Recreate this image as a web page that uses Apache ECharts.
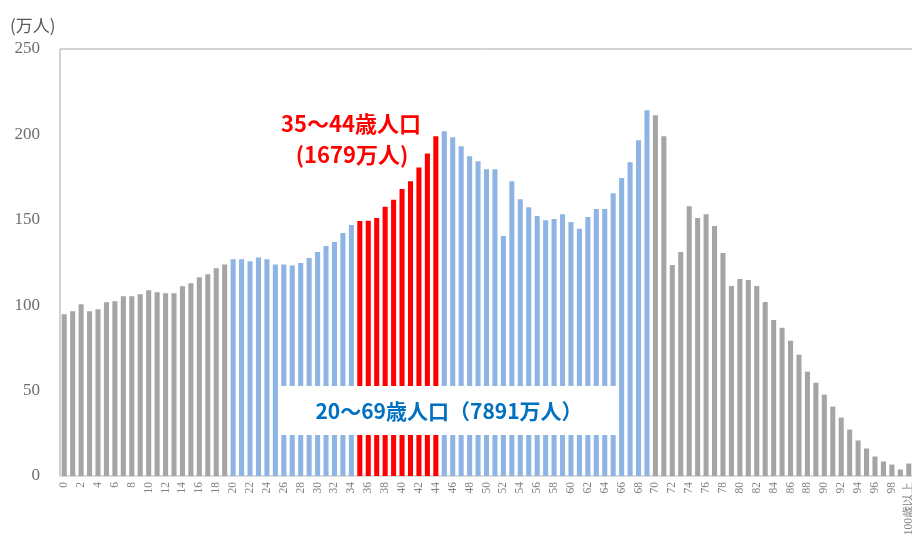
<!DOCTYPE html>
<html>
<head>
<meta charset="utf-8">
<script src="https://cdn.jsdelivr.net/npm/echarts@6/dist/echarts.min.js"></script>
<style>html,body{margin:0;padding:0;background:#fff}#c{width:912px;height:539px}</style>
</head>
<body>
<div id="c"></div>
<script>
// Categories: ages 0..99 and "100歳以上"
var ages = [];
for (var i = 0; i < 100; i++) ages.push(String(i));
ages.push('100歳以上');

// Population (万人) per age
var population = [
  94.7, 96.5, 100.6, 96.5, 97.7, 101.8, 102.3, 105.3, 105.3, 106.4,
  108.8, 107.6, 107.0, 107.0, 111.1, 112.8, 116.4, 118.1, 121.6, 123.9,
  126.9, 126.9, 125.7, 128.0, 126.9, 123.9, 123.9, 123.2, 124.7, 127.6,
  131.2, 134.7, 137.0, 142.3, 146.9, 149.3, 149.5, 151.0, 157.6, 161.7,
  168.0, 172.6, 180.6, 188.8, 198.9, 201.8, 198.3, 193.1, 187.2, 184.3,
  179.6, 179.6, 140.5, 172.6, 162.1, 157.4, 152.2, 149.8, 150.4, 153.3,
  148.7, 144.8, 151.6, 156.3, 156.3, 165.6, 174.4, 183.7, 196.6, 214.1,
  211.2, 198.9, 123.6, 131.2, 158.0, 151.0, 153.3, 146.3, 130.6, 111.3,
  115.4, 114.8, 111.3, 101.9, 91.4, 86.8, 79.2, 71.0, 61.1, 54.6,
  47.6, 40.6, 34.2, 27.2, 20.8, 16.1, 11.4, 8.5, 6.7, 3.8,
  7.3
];

// Highlight ranges (age indices)
var workingRange = [20, 69];
var focusRange = [35, 44];

// Tick labels of the value axis
var yTicks = [0, 50, 100, 150, 200, 250];

var labelFocus1 = '35～44歳人口';
var labelFocus2 = '(1679万人)';
var labelWorking = '20～69歳人口（7891万人）';
var yUnit = '(万人)';

var chart = echarts.init(document.getElementById('c'), null, {renderer: 'canvas'});
chart.setOption({
  animation: false,
  backgroundColor: '#fff',
  grid: {
    left: 60, top: 49, width: 853, bottom: 63,
    outerBoundsMode: 'none', containLabel: false,
    show: true, borderColor: '#a6a6a6', borderWidth: 1, backgroundColor: 'transparent'
  },
  xAxis: {
    type: 'category',
    data: ages,
    boundaryGap: true,
    axisLine: {show: true, lineStyle: {color: '#d9d9d9', width: 2}},
    axisTick: {show: false},
    axisLabel: {
      interval: 1, rotate: 90, margin: 6, hideOverlap: false,
      color: '#808080', fontSize: 11.5, fontFamily: 'Liberation Serif'
    },
    splitLine: {show: false}
  },
  yAxis: {
    type: 'value',
    min: yTicks[0], max: yTicks[yTicks.length - 1], interval: 50,
    axisLine: {show: false},
    axisTick: {show: false},
    splitLine: {show: false},
    axisLabel: {
      margin: 20, color: '#6e6e6e', fontSize: 17, fontFamily: 'Liberation Serif'
    }
  },
  series: [{
    type: 'bar',
    data: population,
    barWidth: '60%',
    itemStyle: {
      color: function (p) {
        var i = p.dataIndex;
        if (i >= focusRange[0] && i <= focusRange[1]) return '#ff0000';
        if (i >= workingRange[0] && i <= workingRange[1]) return '#8eb4e3';
        return '#a5a5a5';
      }
    }
  }],
  graphic: [
    {type: 'text', left: 10, top: 17, z: 100,
     style: {text: yUnit, fill: '#595959', font: '17px "Noto Sans CJK JP"'}},
    {type: 'rect', z: 100, shape: {x: 280, y: 386, width: 337, height: 49},
     style: {fill: '#ffffff'}},
    {type: 'text', z: 101, x: 449, y: 411,
     style: {text: labelWorking, fill: '#0070c0', align: 'center', verticalAlign: 'middle',
             font: 'bold 21px "Noto Sans CJK JP"'}},
    {type: 'text', z: 101, x: 351, y: 124,
     style: {text: labelFocus1, fill: '#ff0000', align: 'center', verticalAlign: 'middle',
             font: 'bold 22px "Noto Sans CJK JP"'}},
    {type: 'text', z: 101, x: 352, y: 155,
     style: {text: labelFocus2, fill: '#ff0000', align: 'center', verticalAlign: 'middle',
             font: 'bold 22px "Noto Sans CJK JP"'}}
  ]
});
</script>
</body>
</html>
